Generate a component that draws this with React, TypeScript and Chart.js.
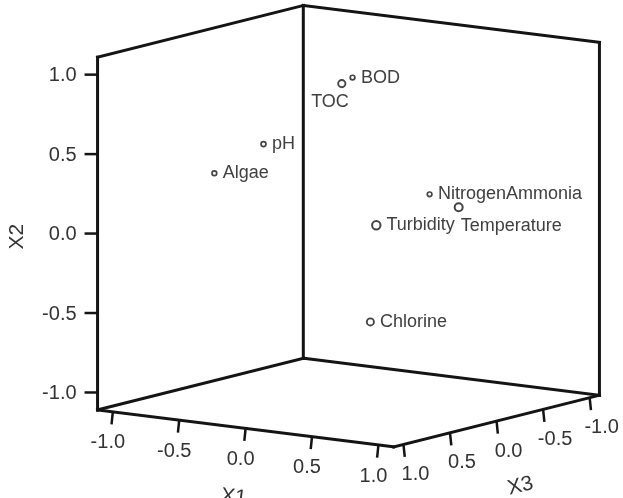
import { useEffect, useRef } from "react";
import { Chart, registerables } from "chart.js";

Chart.register(...registerables);

// Component loadings (X1, X2, X3) for each variable
const variables = ["pH", "Algae", "BOD", "TOC", "NitrogenAmmonia", "Temperature", "Turbidity", "Chlorine"];
const x1Values = [-0.64, -0.94, -0.25, 0.23, 0.12, 0.97, 0.63, 0.34];
const x2Values = [0.45, 0.25, 0.85, 0.98, 0.11, 0.25, 0.16, -0.53];
const x3Values = [0.0, 0.1, -0.4, 0.4, -0.7, 0.2, 0.6, 0.25];

const tickValues = [-1.0, -0.5, 0.0, 0.5, 1.0];
const tickLabels = ["-1.0", "-0.5", "0.0", "0.5", "1.0"];
const axisTitles = ["X1", "X2", "X3"];

// Half-extent of the cube on each axis
const EXTENT = { x1: 1.115, x2: 1.11, x3: 1.105 };

// Oblique view of the cube (view-space units per data unit)
const VIEW = {
  ox: 349.25,
  oy: 225.6,
  e1: [135.5, 17],
  e2: [0, -163],
  e3: [-95, 24],
};

const W = 623;
const H = 498;

function project(a: number, b: number, c: number) {
  return {
    x: VIEW.ox + a * VIEW.e1[0] + b * VIEW.e2[0] + c * VIEW.e3[0],
    y: VIEW.oy + a * VIEW.e1[1] + b * VIEW.e2[1] + c * VIEW.e3[1],
  };
}

// toward-viewer depth (front corner is +X1, +X3)
function depth(a: number, c: number) {
  return 0.574 * a + 0.819 * c;
}

// label placement for crowded points
const labelSide: Record<string, string> = { TOC: "belowLeft", Temperature: "below" };

const FONT = 'Arial, "Liberation Sans", sans-serif';

const cubePlugin = {
  id: "cube3d",
  beforeDatasetsDraw(chart: any) {
    const { ctx } = chart;
    const sx = chart.scales.x;
    const sy = chart.scales.y;
    const P = (a: number, b: number, c: number) => {
      const p = project(a, b, c);
      return [sx.getPixelForValue(p.x), sy.getPixelForValue(p.y)];
    };
    const A = EXTENT.x1, B = EXTENT.x2, C = EXTENT.x3;
    const edges: [number[], number[]][] = [
      // floor
      [[-A, -B, C], [A, -B, C]],
      [[A, -B, C], [A, -B, -C]],
      [[A, -B, -C], [-A, -B, -C]],
      [[-A, -B, -C], [-A, -B, C]],
      // verticals
      [[-A, -B, C], [-A, B, C]],
      [[-A, -B, -C], [-A, B, -C]],
      [[A, -B, -C], [A, B, -C]],
      // top
      [[-A, B, C], [-A, B, -C]],
      [[-A, B, -C], [A, B, -C]],
    ];
    ctx.save();
    ctx.strokeStyle = "#141414";
    ctx.lineWidth = 3;
    ctx.lineCap = "square";
    ctx.lineJoin = "miter";
    for (const [p, q] of edges) {
      const a = P(p[0], p[1], p[2]);
      const b = P(q[0], q[1], q[2]);
      ctx.beginPath();
      ctx.moveTo(a[0], a[1]);
      ctx.lineTo(b[0], b[1]);
      ctx.stroke();
    }

    ctx.lineWidth = 2.5;
    ctx.lineCap = "butt";
    ctx.fillStyle = "#333";
    ctx.font = `20px ${FONT}`;

    // X2 ticks on the left vertical edge
    ctx.textAlign = "right";
    ctx.textBaseline = "middle";
    tickValues.forEach((v, i) => {
      const [x, y] = P(-A, v, C);
      ctx.beginPath();
      ctx.moveTo(x, y);
      ctx.lineTo(x - 13, y);
      ctx.stroke();
      ctx.fillText(tickLabels[i], x - 21, y + 1);
    });

    // X1 ticks along the front-left floor edge
    ctx.textAlign = "center";
    tickValues.forEach((v, i) => {
      const [x, y] = P(v, -B, C);
      ctx.beginPath();
      ctx.moveTo(x, y);
      ctx.lineTo(x - 1.3, y + 12.5);
      ctx.stroke();
      ctx.fillText(tickLabels[i], x - 5, y + 31);
    });

    // X3 ticks along the front-right floor edge
    tickValues.forEach((v, i) => {
      const [x, y] = P(A, -B, v);
      ctx.beginPath();
      ctx.moveTo(x, y);
      ctx.lineTo(x + 1.3, y + 12.5);
      ctx.stroke();
      ctx.fillText(tickLabels[i], x + 12, y + 30);
    });

    // axis titles
    ctx.font = `21px ${FONT}`;
    const t1 = P(0, -B, C);
    const ang1 = Math.atan2(VIEW.e1[1], VIEW.e1[0]);
    ctx.save();
    ctx.translate(t1[0] - 12, t1[1] + 69);
    ctx.rotate(ang1);
    ctx.fillText(axisTitles[0], 0, 0);
    ctx.restore();

    const t3 = P(A, -B, 0);
    const ang3 = Math.atan2(-VIEW.e3[1], -VIEW.e3[0]);
    ctx.save();
    ctx.translate(t3[0] + 24, t3[1] + 65);
    ctx.rotate(ang3);
    ctx.fillText(axisTitles[2], 0, 0);
    ctx.restore();

    const t2 = P(-A, 0, C);
    ctx.save();
    ctx.translate(t2[0] - 80, t2[1] + 3);
    ctx.rotate(-Math.PI / 2);
    ctx.fillText(axisTitles[1], 0, 0);
    ctx.restore();

    ctx.restore();
  },
  afterDatasetsDraw(chart: any) {
    const { ctx } = chart;
    const meta = chart.getDatasetMeta(0);
    ctx.save();
    ctx.fillStyle = "#404040";
    ctx.font = `18px ${FONT}`;
    ctx.textBaseline = "middle";
    meta.data.forEach((el: any, i: number) => {
      const name = variables[i];
      const r = (el.options.radius || 3) + 1;
      const side = labelSide[name];
      if (side === "below") {
        ctx.textAlign = "left";
        ctx.fillText(name, el.x + 2, el.y + 19);
      } else if (side === "belowLeft") {
        ctx.textAlign = "right";
        ctx.fillText(name, el.x + 7, el.y + 18);
      } else {
        ctx.textAlign = "left";
        ctx.fillText(name, el.x + r + 5, el.y);
      }
    });
    ctx.restore();
  },
};

export default function App() {
  const canvasRef = useRef<HTMLCanvasElement | null>(null);

  useEffect(() => {
    const canvas = canvasRef.current;
    if (!canvas) return;

    const points = variables.map((_, i) => project(x1Values[i], x2Values[i], x3Values[i]));
    const depths = variables.map((_, i) => depth(x1Values[i], x3Values[i]));
    const radii = depths.map((z) => Math.min(4.2, Math.max(2.3, 3.0 + 1.4 * z)));
    const widths = depths.map((z) => 1.7 + 0.4 * Math.max(0, z));

    const chart = new Chart(canvas, {
      type: "scatter",
      data: {
        datasets: [
          {
            label: "Component Plot",
            data: points,
            pointRadius: radii,
            pointBorderWidth: widths,
            pointBorderColor: "#454545",
            pointBackgroundColor: "rgba(255,255,255,0)",
            pointStyle: "circle",
          },
        ],
      },
      options: {
        animation: false,
        responsive: false,
        maintainAspectRatio: false,
        layout: { padding: 0 },
        plugins: {
          legend: { display: false },
          tooltip: { enabled: false },
        },
        scales: {
          x: { type: "linear", min: 0, max: W, display: false },
          y: { type: "linear", min: 0, max: H, reverse: true, display: false },
        },
      },
      plugins: [cubePlugin],
    });

    return () => chart.destroy();
  }, []);

  return (
    <div style={{ position: "fixed", left: 0, top: 0, width: W, height: H, background: "#fff" }}>
      <canvas ref={canvasRef} width={W} height={H} style={{ display: "block", width: W, height: H }} />
    </div>
  );
}
